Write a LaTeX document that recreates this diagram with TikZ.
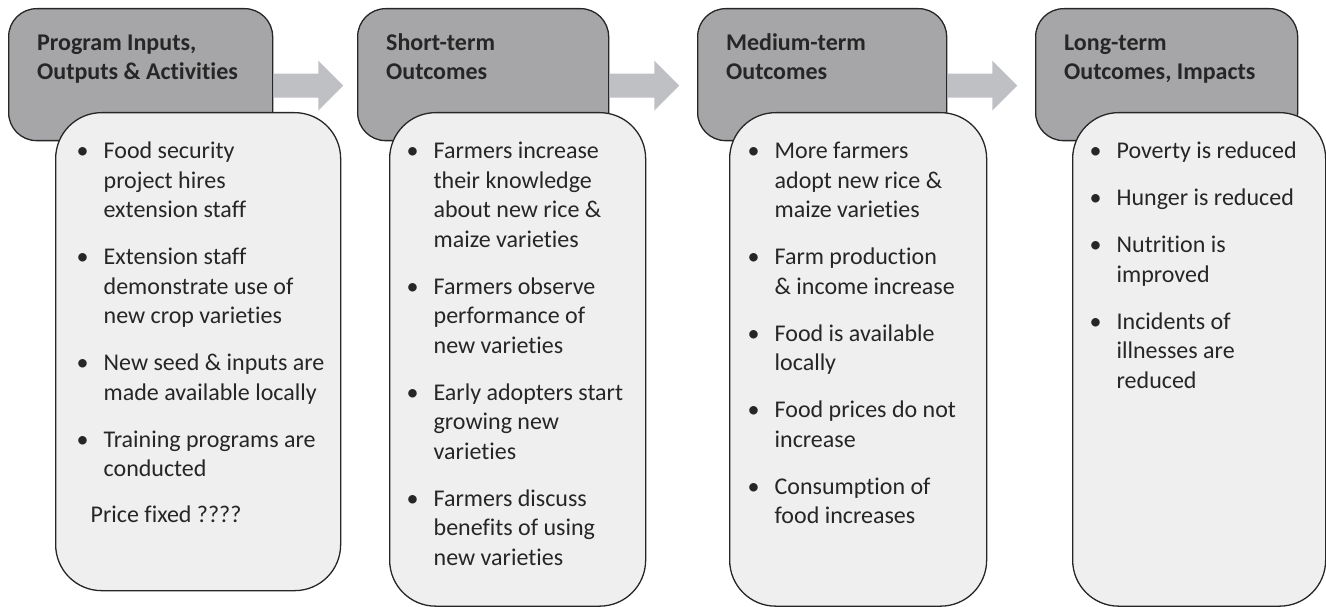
\documentclass[tikz,border=0pt]{standalone}
\usepackage{fontspec}
\setmainfont{Carlito}[Ligatures={NoCommon}]

\definecolor{borde}{HTML}{262626}
\definecolor{texto}{HTML}{262626}
\definecolor{grisoscuro}{HTML}{A6A6A8}
\definecolor{grisclaro}{HTML}{EFEFEF}
\definecolor{grisflecha}{HTML}{BFC0C4}

% Lista con vinetas
\newenvironment{puntos}[1][45pt]{%
  \begin{list}{\textbullet}{%
    \setlength{\leftmargin}{#1}\setlength{\rightmargin}{0pt}%
    \setlength{\labelwidth}{0pt}\setlength{\labelsep}{0pt}%
    \setlength{\itemsep}{17.5pt}\setlength{\parsep}{0pt}%
    \setlength{\topsep}{0pt}\setlength{\partopsep}{0pt}%
    \def\makelabel##1{\strut\llap{\makebox[0pt]{##1}\hspace{21pt}}}}}%
  {\end{list}}

% Texto de encabezado y de cuerpo
\newcommand{\cabtexto}[3]{\parbox[c][132pt][t]{#1}{\leftskip=28.5pt\vspace*{21pt}\strut #2\\#3}}
\newcommand{\cuetexto}[3]{\parbox[c][#2][t]{#1}{\vspace*{25.5pt}#3}}

\begin{document}
\begin{tikzpicture}[x=1pt,y=-1pt,
    cabeza/.style={draw=borde,fill=grisoscuro,line width=1.3pt,rounded corners=28pt,
      inner sep=0pt,anchor=north west,text=texto,font=\fontsize{24}{29.5}\selectfont\bfseries},
    cuerpo/.style={draw=borde,fill=grisclaro,line width=1.3pt,rounded corners=46pt,
      inner sep=0pt,anchor=north west,text=texto,font=\fontsize{24}{29.5}\selectfont},
    flecha/.style={fill=grisflecha}]
    \useasboundingbox (0,0) rectangle (1326,607);

    % Encabezados
    \node[cabeza] (head1) at (8,8)    {\cabtexto{264pt}{Program Inputs,}{Outputs \& Activities}};
    \node[cabeza] (head2) at (357,8)  {\cabtexto{251pt}{Short-term}{Outcomes}};
    \node[cabeza] (head3) at (697,8)  {\cabtexto{249pt}{Medium-term}{Outcomes}};
    \node[cabeza] (head4) at (1035,8) {\cabtexto{262pt}{Long-term}{Outcomes, Impacts}};

    % Flechas
    \foreach \i in {1,2,3}
        \fill[flecha] ([xshift=0.7pt]head\i.east) ++(0,-1) -- ++(44.3,0) -- ++(0,-13)
            -- ++(25,25) -- ++(-25,25) -- ++(0,-13) -- ++(-44.3,0) -- cycle;

    % Cuerpos
    \node[cuerpo] (body1) at (55,112) {\cuetexto{285pt}{478pt}{%
        \begin{puntos}[48pt]
        \item Food security\\project hires\\extension staff
        \item Extension staff\\demonstrate use of\\new crop varieties
        \item New seed \& inputs are\\made available locally
        \item Training programs are\\conducted
        \end{puntos}
        \vspace{16.5pt}\noindent\hspace*{35pt}Price fixed ????}};
    \node[cuerpo] (body2) at (389,112) {\cuetexto{256pt}{493.5pt}{%
        \begin{puntos}[44pt]
        \item Farmers increase\\their knowledge\\about new rice \&\\maize varieties
        \item Farmers observe\\performance of\\new varieties
        \item Early adopters start\\growing new\\varieties
        \item Farmers discuss\\benefits of using\\new varieties
        \end{puntos}}};
    \node[cuerpo] (body3) at (729,112) {\cuetexto{257pt}{493.5pt}{%
        \begin{puntos}[45pt]
        \item More farmers\\adopt new rice \&\\maize varieties
        \item Farm production\\\& income increase
        \item Food is available\\locally
        \item Food prices do not\\increase
        \item Consumption of\\food increases
        \end{puntos}}};
    \node[cuerpo] (body4) at (1072,112) {\cuetexto{253pt}{493.5pt}{%
        \begin{puntos}[44pt]
        \item Poverty is reduced
        \item Hunger is reduced
        \item Nutrition is\\improved
        \item Incidents of\\illnesses are\\reduced
        \end{puntos}}};
\end{tikzpicture}
\end{document}
